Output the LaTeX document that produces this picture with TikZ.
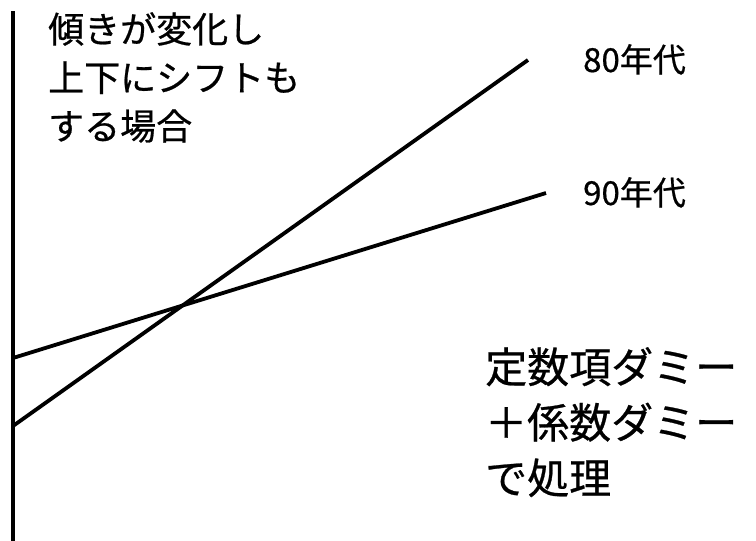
\documentclass[tikz,border=0pt]{standalone}
\usepackage{fontspec}
\newfontfamily\jp[FakeBold=0.6]{Noto Sans CJK JP}
\begin{document}
\begin{tikzpicture}[x=1pt,y=-1pt,
  axisline/.style={line width=3.8pt},
  trend/.style={line width=3.8pt},
  lbl/.style={inner sep=0pt,anchor=base west,font=\jp\fontsize{33}{37}\selectfont},
  block/.style={inner sep=0pt,anchor=north west,align=left}]
\useasboundingbox (0,0) rectangle (756,541);
\coordinate (top) at (13,11);
\coordinate (bot) at (13,541);
\draw[axisline] (top) -- (bot);
\coordinate (a80) at (13,426);
\coordinate (b80) at (528,60);
\coordinate (a90) at (13,358);
\coordinate (b90) at (546,193);
\draw[trend] (a80) -- (b80);
\draw[trend] (a90) -- (b90);
\node[lbl] (l80) at (583,72) {80年代};
\node[lbl] (l90) at (583,205) {90年代};
\node[block,font=\jp\fontsize{36}{48.5}\selectfont] (t1) at (48,12) {傾きが変化し\\上下にシフトも\\する場合};
\node[block,font=\jp\fontsize{42}{55.5}\selectfont] (t2) at (485,347) {定数項ダミー\\＋係数ダミー\\で処理};
\end{tikzpicture}
\end{document}
